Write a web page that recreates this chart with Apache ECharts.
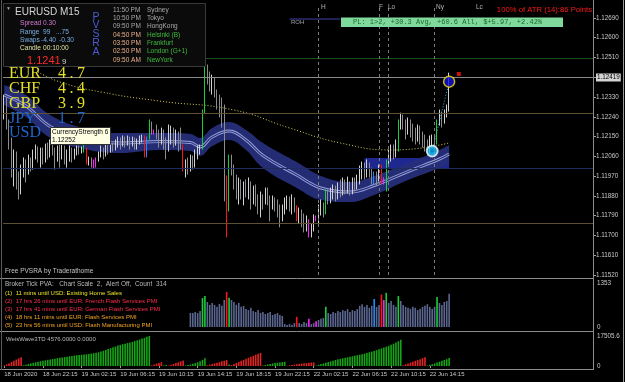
<!DOCTYPE html>
<html>
<head>
<meta charset="utf-8">
<script src="https://cdn.jsdelivr.net/npm/echarts@6.0.0/dist/echarts.min.js"></script>
<style>
  html, body { margin: 0; padding: 0; background: #000; }
  #chart { width: 625px; height: 382px; }
</style>
</head>
<body>
<div id="chart"></div>
<script>
// EURUSD M15, prices
const BASE = 1.11520
const SLOTS = 244

// candles: [open, close, low, high]
const ohlc = [
  [1.12273,1.12319,1.12228,1.12341],[1.12319,1.12205,1.12182,1.12328],[1.12205,1.12137,1.12091,1.12228],[1.12137,1.12000,1.11964,1.12146],
  [1.12000,1.12046,1.11923,1.12091],[1.12046,1.11955,1.11909,1.12082],[1.11955,1.11909,1.11864,1.11991],[1.11909,1.11977,1.11887,1.12023],
  [1.11977,1.12023,1.11964,1.12055],[1.12023,1.11991,1.11941,1.12046],[1.11991,1.12036,1.11977,1.12068],[1.12036,1.12009,1.11991,1.12055],
  [1.12009,1.12068,1.12000,1.12091],[1.12068,1.12091,1.12046,1.12114],[1.12091,1.12055,1.12032,1.12105],[1.12055,1.12082,1.12009,1.12100],
  [1.12082,1.12046,1.12023,1.12100],[1.12046,1.12100,1.12032,1.12118],[1.12100,1.12068,1.12046,1.12123],[1.12068,1.12114,1.12055,1.12137],
  [1.12114,1.12082,1.12064,1.12132],[1.12082,1.12055,1.12000,1.12100],[1.12055,1.12091,1.12036,1.12109],[1.12091,1.12064,1.12009,1.12114],
  [1.12064,1.12096,1.12046,1.12118],[1.12096,1.12046,1.12023,1.12109],[1.12046,1.12068,1.12009,1.12091],[1.12068,1.12091,1.12036,1.12109],
  [1.12091,1.12059,1.12032,1.12100],[1.12059,1.12082,1.12046,1.12096],[1.12082,1.12096,1.12064,1.12109],[1.12096,1.12087,1.12068,1.12109],
  [1.12087,1.12091,1.12073,1.12105],[1.12082,1.12109,1.12077,1.12114],[1.12091,1.12032,1.12023,1.12100],[1.12032,1.12046,1.12018,1.12059],
  [1.12046,1.12032,1.12009,1.12055],[1.12032,1.12014,1.12005,1.12046],[1.12018,1.12046,1.12009,1.12055],[1.12046,1.12068,1.12036,1.12082],
  [1.12068,1.12091,1.12055,1.12109],[1.12091,1.12073,1.12046,1.12100],[1.12073,1.12105,1.12059,1.12123],[1.12105,1.12087,1.12068,1.12114],
  [1.12087,1.12109,1.12077,1.12127],[1.12109,1.12096,1.12082,1.12123],[1.12096,1.12114,1.12087,1.12137],[1.12114,1.12132,1.12100,1.12150],
  [1.12132,1.12114,1.12091,1.12146],[1.12114,1.12137,1.12105,1.12155],[1.12137,1.12123,1.12100,1.12150],[1.12123,1.12141,1.12109,1.12155],
  [1.12141,1.12118,1.12091,1.12150],[1.12118,1.12137,1.12105,1.12150],[1.12137,1.12109,1.12091,1.12146],[1.12109,1.12127,1.12091,1.12141],
  [1.12127,1.12141,1.12114,1.12155],[1.12141,1.12146,1.12123,1.12159],[1.12150,1.12059,1.12055,1.12155],[1.12059,1.12141,1.12055,1.12150],
  [1.12146,1.12214,1.12137,1.12228],[1.12214,1.12191,1.12159,1.12218],[1.12177,1.12168,1.12159,1.12182],[1.12191,1.12159,1.12137,1.12205],
  [1.12159,1.12137,1.12100,1.12182],[1.12137,1.12173,1.12114,1.12191],[1.12173,1.12114,1.12091,1.12182],[1.12114,1.12091,1.12046,1.12146],
  [1.12091,1.12137,1.12082,1.12205],[1.12137,1.12159,1.12114,1.12200],[1.12159,1.12127,1.12100,1.12191],[1.12127,1.12155,1.12109,1.12182],
  [1.12155,1.12137,1.12082,1.12173],[1.12137,1.12114,1.12091,1.12191],[1.12105,1.12000,1.11991,1.12114],[1.12000,1.12023,1.11964,1.12046],
  [1.12023,1.12009,1.11977,1.12055],[1.12009,1.12046,1.11991,1.12068],[1.12046,1.12023,1.12000,1.12064],[1.12023,1.12055,1.12009,1.12091],
  [1.12055,1.12082,1.12046,1.12109],[1.12082,1.12105,1.12068,1.12114],[1.12105,1.12264,1.12091,1.12273],[1.12264,1.12464,1.12255,1.12491],
  [1.12464,1.12419,1.12387,1.12478],[1.12419,1.12387,1.12355,1.12446],[1.12387,1.12410,1.12341,1.12432],[1.12410,1.12355,1.12328,1.12419],
  [1.12355,1.12319,1.12273,1.12364],[1.12319,1.12273,1.12237,1.12341],[1.12273,1.12218,1.12191,1.12328],[1.12205,1.11964,1.11855,1.12296],
  [1.11964,1.11827,1.11691,1.11973],[1.11827,1.12055,1.11809,1.12068],[1.12055,1.12000,1.11973,1.12068],[1.12000,1.11955,1.11909,1.12023],
  [1.11955,1.11909,1.11864,1.11977],[1.11909,1.11932,1.11841,1.11964],[1.11932,1.11887,1.11864,1.11955],[1.11887,1.11918,1.11837,1.11946],
  [1.11918,1.11896,1.11873,1.11955],[1.11896,1.11932,1.11864,1.11964],[1.11932,1.11882,1.11818,1.11946],[1.11882,1.11909,1.11841,1.11927],
  [1.11909,1.11864,1.11832,1.11932],[1.11864,1.11841,1.11796,1.11887],[1.11841,1.11873,1.11782,1.11900],[1.11873,1.11850,1.11818,1.11887],
  [1.11850,1.11887,1.11841,1.11918],[1.11887,1.11864,1.11837,1.11918],[1.11864,1.11837,1.11764,1.11882],[1.11837,1.11859,1.11818,1.11882],
  [1.11859,1.11841,1.11809,1.11873],[1.11841,1.11809,1.11782,1.11864],[1.11809,1.11782,1.11737,1.11841],[1.11782,1.11818,1.11764,1.11841],
  [1.11818,1.11841,1.11796,1.11873],[1.11841,1.11855,1.11818,1.11882],[1.11855,1.11832,1.11809,1.11877],[1.11832,1.11864,1.11796,1.11887],
  [1.11864,1.11827,1.11805,1.11873],[1.11827,1.11773,1.11764,1.11837],[1.11773,1.11800,1.11755,1.11827],[1.11800,1.11773,1.11737,1.11818],
  [1.11773,1.11750,1.11714,1.11800],[1.11750,1.11764,1.11718,1.11791],[1.11764,1.11718,1.11691,1.11773],[1.11718,1.11737,1.11691,1.11755],
  [1.11737,1.11773,1.11718,1.11796],[1.11782,1.11773,1.11764,1.11791],[1.11773,1.11809,1.11750,1.11841],[1.11809,1.11827,1.11791,1.11864],
  [1.11827,1.11809,1.11782,1.11850],[1.11805,1.11896,1.11796,1.11909],[1.11896,1.11864,1.11841,1.11909],[1.11864,1.11882,1.11846,1.11918],
  [1.11882,1.11909,1.11864,1.11932],[1.11909,1.11882,1.11855,1.11927],[1.11882,1.11918,1.11864,1.11941],[1.11918,1.11900,1.11873,1.11955],
  [1.11900,1.11932,1.11882,1.11964],[1.11932,1.11909,1.11887,1.11955],[1.11909,1.11927,1.11891,1.11968],[1.11927,1.11909,1.11882,1.11946],
  [1.11909,1.11936,1.11887,1.11964],[1.11936,1.11923,1.11900,1.11964],[1.11923,1.11955,1.11909,1.11977],[1.11955,1.11973,1.11932,1.12018],
  [1.11973,1.12000,1.11955,1.12036],[1.12000,1.11977,1.11955,1.12032],[1.11977,1.12009,1.11964,1.12046],[1.12009,1.11991,1.11964,1.12032],
  [1.11991,1.11968,1.11932,1.12009],[1.11941,1.11977,1.11932,1.11991],[1.11977,1.11955,1.11927,1.11991],[1.11964,1.12009,1.11946,1.12023],
  [1.12009,1.11946,1.11936,1.12023],[1.11955,1.11941,1.11932,1.11964],[1.11941,1.12032,1.11900,1.12046],[1.12032,1.12055,1.12018,1.12091],
  [1.12055,1.12091,1.12036,1.12114],[1.12091,1.12068,1.12046,1.12114],[1.12068,1.12091,1.12055,1.12137],[1.12091,1.12214,1.12082,1.12228],
  [1.12214,1.12237,1.12182,1.12259],[1.12237,1.12205,1.12182,1.12250],[1.12205,1.12182,1.12137,1.12228],[1.12182,1.12218,1.12159,1.12237],
  [1.12218,1.12191,1.12146,1.12228],[1.12191,1.12159,1.12127,1.12209],[1.12159,1.12137,1.12114,1.12191],[1.12137,1.12173,1.12127,1.12205],
  [1.12173,1.12146,1.12114,1.12200],[1.12146,1.12127,1.12100,1.12173],[1.12127,1.12100,1.12082,1.12159],[1.12100,1.12091,1.12064,1.12137],
  [1.12091,1.12114,1.12073,1.12155],[1.12114,1.12137,1.12100,1.12159],[1.12137,1.12127,1.12109,1.12155],[1.12127,1.12214,1.12114,1.12228],
  [1.12214,1.12237,1.12200,1.12273],[1.12237,1.12218,1.12191,1.12264],[1.12218,1.12250,1.12209,1.12273],[1.12250,1.12273,1.12237,1.12296],
  [1.12273,1.12419,1.12264,1.12441]
]

// PVSRA coloured bars
const greenBars = [33, 60, 82, 83, 93, 133, 158, 163, 179]
const redBars = [34, 58, 74, 92, 121, 156]
const blueBars = [59, 153]
const magentaBars = [37, 38, 62, 126, 129, 157]

// broker tick volume, from bar 77 on
const volStart = 77
const volumes = [
  430,430,460,430,490,890,950,770,680,740,680,620,710,650,830,1080,900,830,770,680,
  740,620,650,550,520,590,490,460,520,430,460,400,430,460,370,400,430,370,340,90,
  60,90,60,120,310,120,90,150,120,250,90,120,180,215,250,280,620,430,400,460,
  430,490,460,520,490,550,460,520,490,550,650,700,620,680,590,650,860,620,680,1000,
  830,1050,740,800,680,620,950,800,680,620,590,560,620,590,520,560,620,650,700,620,
  560,620,920,740,680,770,800,1020
]

// weis waves, one entry per wave
const weisWaves = [
  ['d', [300,900,1500,2300,3000,3800,4500,5100]],
  ['u', [400,800,1200,1500,1800,2200,2550,2800,3100,3300,3600,3800,4100,4300,4590,4800,5000,5200,5450,5700,5900,6100,6290,6400,6550,6700,6900,7050,7250,7500,7750,7990,8400,8900,9400,9900,10400,10900,11400,11900,12300,12700,13000,13400,13750,14100,14500,15000,15500,16000,16500,17000,17505]],
  ['d', [400,900,1400,1800,2200]],
  ['u', [300,600]],
  ['d', [300,700,1200,1700,2200,2700,3200]],
  ['u', [300,600,900,1300,1700,2200,2800,3600,4500]],
  ['d', [400,800,1100,1500,1900,2300,2700,3100,3500]],
  ['u', [900]],
  ['d', [600,1200,1800,2400,3000,3600,4200,4800,5400,6000,6600,7100,7650]],
  ['u', [300,600,900,1200,1500,1700,1900,2100,2300,2500]],
  ['d', [200,400,600,800,1000,1200,1400,1550,1700,1850,2000,2100]],
  ['u', [300,700,1100,1500,1900,2300,2700,3100,3500,3900,4200,4500,4800,5100,5400,5700,6000,6300,6600,6900,7200,7600,8000,8400,8800,9300,9800,10300,10800,11300,11800,12400,13000,13700,14500,15300]],
  ['d', [500,1000,1500,2000,2500,3000,3500,4000,4600,5100]],
  ['u', [300,700,1100,1500,2000,2500,3000,3500,4000,4600]]
]

// ema band
const bandIdx = [0, 9, 19, 31, 48, 64, 77, 81, 86, 93, 100, 107, 121, 131, 143, 153, 167, 180, 184]
const bandUpper = [1.12385,1.12339,1.12248,1.12194,1.12166,1.12166,1.12162,1.12144,1.12189,1.12216,1.12180,1.12121,1.12034,1.11971,1.11943,1.11971,1.12030,1.12089,1.12112]
const bandLower = [1.12294,1.12239,1.12144,1.12098,1.12075,1.12089,1.12084,1.12062,1.12107,1.12135,1.12089,1.12007,1.11916,1.11861,1.11852,1.11884,1.11952,1.12007,1.12030]

// slow yellow dotted average
const maIdx = [14, 23, 40, 64, 95, 118, 139, 161, 184]
const maVals = [1.12444,1.12399,1.12353,1.12312,1.12271,1.12189,1.12121,1.12089,1.12121]

// levels
const bidPrice = 1.12419
const levels = [[1.12508, '#174f17'], [1.12257, '#5f5033'], [1.12007, '#1f2d5c'], [1.11757, '#5f5033']]
const sessionLines = [130, 155, 159, 178]
const zone = [149, 184, 1.12053, 1.12007]
const rohLine = [118, 139, 1.12685]

const tickLabels = ['18 Jun 2020','18 Jun 22:15','19 Jun 02:15','19 Jun 06:15','19 Jun 10:15','19 Jun 14:15',
  '19 Jun 18:15','19 Jun 22:15','22 Jun 02:15','22 Jun 06:15','22 Jun 10:15','22 Jun 14:15']
const priceTicks = { min: 0, max: 1229, step: 90 }

const sessions = [['11:50 PM','Sydney'],['10:50 PM','Tokyo'],['09:50 PM','HongKong'],['04:50 PM','Helsinki (B)'],
  ['03:50 PM','Frankfurt'],['02:50 PM','London (G+1)'],['09:50 AM','NewYork']]
const strengthNames = ['EUR','CHF','GBP','JPY','USD']
const strengthValues = ['4.7','4.4','3.9','1.7','']
const newsLines = [
  ['(1)  11 mins until USD: Existing Home Sales', '#e8e22a'],
  ['(2)  17 hrs 26 mins until EUR: French Flash Services PMI', '#ff2f4f'],
  ['(3)  17 hrs 41 mins until EUR: German Flash Services PMI', '#ff2f4f'],
  ['(4)  18 hrs 11 mins until EUR: Flash Services PMI', '#f2a324'],
  ['(5)  23 hrs 56 mins until USD: Flash Manufacturing PMI', '#f2a324']
]

const FONT = 'Liberation Sans'
const pt = (p) => +((p - BASE) * 1e5).toFixed(2)
const cats = Array.from({ length: SLOTS }, (_, i) => String(i))

const specialColor = (i) => {
  if (greenBars.includes(i)) return '#18d03a'
  if (redBars.includes(i)) return '#ff1414'
  if (blueBars.includes(i)) return '#1e8cff'
  if (magentaBars.includes(i)) return '#ff22ff'
  return null
}

const candleData = ohlc.map((r, i) => {
  const v = r.map(pt)
  const c = specialColor(i)
  if (!c) return v
  return { value: v, itemStyle: { color: c, color0: c, borderColor: c, borderColor0: c } }
})

const volData = ohlc.map((r, i) => {
  if (i < volStart) return '-'
  return { value: volumes[i - volStart], itemStyle: { color: specialColor(i) || '#5b6790' } }
})

const weisData = []
weisWaves.forEach(([dir, vals]) => {
  vals.forEach((v) => weisData.push({ value: v, itemStyle: { color: dir === 'u' ? '#16a516' : '#e32424' } }))
})

const labelIdx = (i) => i % 16 === 0 && i / 16 < tickLabels.length

const text = (x, y, str, fill, size, extra = {}) => ({
  type: 'text', x, y, z: 60,
  style: { text: str, fill, font: `${size}px ${extra.family || FONT}`, verticalAlign: 'middle', align: extra.align || 'left' }
})
const hline = (y, x1, x2, color) => ({ type: 'line', z: 55, shape: { x1, y1: y, x2, y2: y }, style: { stroke: color, lineWidth: 1 } })
const vline = (x, y1, y2, color) => ({ type: 'line', z: 55, shape: { x1: x, y1, x2: x, y2 }, style: { stroke: color, lineWidth: 1 } })

const graphics = [
  // info panel
  { type: 'rect', z: 50, shape: { x: 3.5, y: 3.5, width: 202, height: 63 }, style: { fill: '#0b0b0b', stroke: '#3a3a3a', lineWidth: 1 } },
  text(6, 9, '▼', '#a0a0a0', 5),
  text(15, 12, 'EURUSD', '#d6d6d6', 10),
  text(60, 12, 'M15', '#d6d6d6', 10),
  text(20, 23, 'Spread 0.30', '#d57ad6', 6.6),
  text(20, 32, 'Range', '#78aee2', 6.6), text(43, 32, '99', '#78aee2', 6.6), text(56, 32, '...75', '#78aee2', 6.6),
  text(20, 40, 'Swaps', '#78aee2', 6.6), text(41, 40, '-4.40', '#78aee2', 6.6), text(59, 40, '-0.30', '#78aee2', 6.6),
  text(20, 48, 'Candle', '#e2e2a2', 6.6), text(43, 48, '00:10:00', '#e2e2a2', 6.6),
  text(27, 61, '1.1241', '#ff2a2a', 11),
  text(62, 62, '9', '#d0d0d0', 8)
]
'PVSRA'.split('').forEach((ch, k) => graphics.push(text(96, [17, 25.5, 34, 43, 52][k], ch, '#4b5ad6', 10.5, { align: 'center' })))
sessions.forEach(([t, city], k) => {
  const y = 10 + k * 8.3
  graphics.push(text(113, y, t, k < 3 ? '#a8a8a8' : '#e7b089', 6.5))
  graphics.push(text(147, y, city, k < 3 ? '#a8a8a8' : '#3dbb3d', 6.5))
})
strengthNames.forEach((n, k) => {
  const y = 74 + k * 14.8
  const c = k < 3 ? '#e4e028' : '#1f66cc'
  graphics.push(text(9, y, n, c, 16, { family: 'Liberation Serif' }))
  if (strengthValues[k]) {
    strengthValues[k].split('').forEach((ch, j) => graphics.push(text(62 + j * 9.5, y, ch, c, 16, { family: 'Liberation Serif', align: 'center' })))
  }
})
graphics.push(
  { type: 'rect', z: 58, shape: { x: 50.5, y: 127.5, width: 60, height: 17 }, style: { fill: '#ffffe4', stroke: '#303030', lineWidth: 1 } },
  text(52, 132, 'CurrencyStrength 6', '#000', 6.5),
  text(52, 140, '1.12252', '#000', 6.5),
  // top labels
  text(321, 7, 'H', '#b4b4b4', 6.5), text(379, 7, 'F', '#b4b4b4', 6.5), text(388, 7, 'Lo', '#b4b4b4', 6.5),
  text(436, 7, 'Ny', '#b4b4b4', 6.5), text(476, 7, 'Lc', '#b4b4b4', 6.5),
  text(592, 10, '100% of ATR (14):86 Points', '#ff1a1a', 7.7, { align: 'right' }),
  { type: 'rect', z: 58, shape: { x: 341, y: 17.5, width: 222, height: 9.5 }, style: { fill: '#7fd89c' } },
  text(353, 22.5, 'PL: 1>2, +30.3 Avg, +60.6 All, $+5.97, +2.42%', '#1c6a2a', 7, { family: 'Liberation Mono' }),
  text(291, 22.5, 'ROH', '#a0a0a0', 6),
  text(5, 271, 'Free PVSRA by Traderathome', '#c4c4c4', 6.5),
  text(5, 284.5, 'Broker Tick PVA:   Chart Scale  2,  Alert Off,  Count  314', '#b8b8b8', 6.5),
  text(6, 339, 'WeisWave3TD 4576.0000 0.0000', '#b8b8b8', 6),
  hline(278.5, 0, 593, '#8c8c8c'), hline(331.5, 0, 593, '#8c8c8c'), hline(369.5, 0, 593, '#8c8c8c'),
  vline(593.5, 0, 370, '#8c8c8c'), vline(623.5, 0, 382, '#9a9a9a'), vline(1.5, 0, 370, '#5a5a5a')
)
newsLines.forEach(([s, c], k) => graphics.push(text(5, 293 + k * 8, s, c, 6, { family: 'Liberation Sans Narrow, Liberation Sans' })))

const axisLabelStyle = { color: '#c8c8c8', fontSize: 6.3, fontFamily: FONT }
const grids = [
  { left: 3, right: 32, top: 5, height: 270 },
  { left: 3, right: 32, top: 283, height: 44 },
  { left: 3, right: 32, top: 336, height: 30 }
].map((g) => Object.assign(g, { containLabel: false, outerBoundsMode: 'none', show: false }))

const option = {
  backgroundColor: '#000',
  animation: false,
  grid: grids,
  xAxis: [0, 1, 2].map((g) => ({
    type: 'category', gridIndex: g, data: cats, boundaryGap: true,
    axisLine: { show: false },
    axisTick: { show: g === 2, interval: labelIdx, length: 2, alignWithLabel: true, lineStyle: { color: '#9a9a9a' } },
    axisLabel: {
      show: g === 2, interval: labelIdx, align: 'left', margin: 5,
      color: '#c8c8c8', fontSize: 6, fontFamily: FONT,
      formatter: (v, i) => tickLabels[i / 16]
    },
    splitLine: { show: false }
  })),
  yAxis: [
    {
      type: 'value', gridIndex: 0, position: 'right', scale: false,
      min: priceTicks.min, max: priceTicks.max, interval: priceTicks.step,
      axisLine: { show: false },
      axisTick: { show: true, length: 3, lineStyle: { color: '#a0a0a0' } },
      axisLabel: Object.assign({ margin: 3, showMaxLabel: false, formatter: (v) => (BASE + v / 1e5).toFixed(5) }, axisLabelStyle),
      splitLine: { show: false }
    },
    {
      type: 'value', gridIndex: 1, position: 'right', min: 0, max: 1353, interval: 1353,
      axisLine: { show: false }, axisTick: { show: false },
      axisLabel: Object.assign({ margin: 4, formatter: (v) => String(v) }, axisLabelStyle),
      splitLine: { show: false }
    },
    {
      type: 'value', gridIndex: 2, position: 'right', min: 0, max: 17505.6, interval: 17505.6,
      axisLine: { show: false }, axisTick: { show: false },
      axisLabel: Object.assign({ margin: 4, formatter: (v) => (v === 0 ? '0' : v.toFixed(1)) }, axisLabelStyle),
      splitLine: { show: false }
    }
  ],
  graphic: graphics,
  series: [
    {
      type: 'line', name: 'bandBase', stack: 'band', z: 1, silent: true, symbol: 'none', smooth: 0.4,
      lineStyle: { width: 0 },
      data: bandIdx.map((x, k) => [x, pt(bandLower[k])])
    },
    {
      type: 'line', name: 'band', stack: 'band', z: 1, silent: true, symbol: 'none', smooth: 0.4,
      lineStyle: { width: 0 }, areaStyle: { color: '#262e7a', opacity: 0.95 },
      data: bandIdx.map((x, k) => [x, pt(bandUpper[k]) - pt(bandLower[k])])
    },
    {
      type: 'line', z: 1, silent: true, symbol: 'none', smooth: 0.4,
      lineStyle: { width: 3, color: '#9aa2d8' },
      data: bandIdx.map((x, k) => [x, (pt(bandUpper[k]) + pt(bandLower[k])) / 2])
    },
    {
      type: 'line', z: 1, silent: true, symbol: 'none', smooth: 0.4,
      lineStyle: { width: 1.2, color: '#2a3380' },
      data: bandIdx.map((x, k) => [x, (pt(bandUpper[k]) + pt(bandLower[k])) / 2])
    },
    {
      type: 'candlestick', name: 'EURUSD', z: 3, barWidth: 1,
      itemStyle: { color: '#d2d2d2', color0: '#8c8c8c', borderColor: '#d2d2d2', borderColor0: '#8c8c8c', borderWidth: 1 },
      data: candleData,
      markArea: {
        silent: true,
        itemStyle: { color: '#1f2891' },
        data: [[{ xAxis: zone[0], yAxis: pt(zone[2]) }, { xAxis: zone[1], yAxis: pt(zone[3]) }]]
      },
      markLine: {
        silent: true, symbol: ['none', 'none'], animation: false,
        label: { show: false },
        data: [
          {
            yAxis: pt(bidPrice), lineStyle: { color: '#8a8a8a', type: 'solid', width: 1 },
            label: {
              show: true, position: 'end', distance: 3, formatter: bidPrice.toFixed(5),
              backgroundColor: '#d4d4d4', color: '#000', padding: [1, 1], fontSize: 6.3, fontFamily: FONT
            }
          },
          ...levels.map(([p, c]) => ({ yAxis: pt(p), lineStyle: { color: c, type: 'solid', width: 1 } })),
          ...sessionLines.map((i) => ({ xAxis: i, lineStyle: { color: '#7c7c7c', type: [3, 3], width: 1 } }))
        ]
      }
    },
    {
      type: 'line', z: 2, silent: true, symbol: 'none', smooth: 0.5,
      lineStyle: { color: '#d8d15a', width: 1, type: [1, 2] },
      data: maIdx.map((x, k) => [x, pt(maVals[k])])
    },
    {
      type: 'line', z: 4, silent: true, symbol: 'none',
      lineStyle: { color: '#3ac4ff', width: 1, type: [1, 2] },
      data: [[177, pt(1.12084)], [184, pt(1.12400)]]
    },
    {
      type: 'line', z: 4, silent: true, symbol: 'none',
      lineStyle: { color: '#2b2b72', width: 1.5 },
      data: [[rohLine[0], pt(rohLine[2])], [rohLine[1], pt(rohLine[2])]]
    },
    {
      type: 'scatter', z: 5, silent: true, symbolSize: 11,
      itemStyle: { color: '#1414d8', borderColor: '#ffe400', borderWidth: 1.5 },
      data: [[184, pt(1.12400)]]
    },
    {
      type: 'scatter', z: 5, silent: true, symbolSize: 11,
      itemStyle: { color: '#1ec6ff', borderColor: '#ffffff', borderWidth: 1.8 },
      data: [[177, pt(1.12084)]]
    },
    {
      type: 'scatter', z: 6, silent: true, symbolSize: 3,
      itemStyle: { color: '#0f78b4' },
      data: [[177, pt(1.12084)]]
    },
    {
      type: 'scatter', z: 5, silent: true, symbol: 'rect', symbolSize: 4,
      itemStyle: { color: '#ff1414' },
      data: [[188, pt(1.12435)]]
    },
    {
      type: 'bar', xAxisIndex: 1, yAxisIndex: 1, barWidth: 1.6, silent: true,
      data: volData
    },
    {
      type: 'bar', xAxisIndex: 2, yAxisIndex: 2, barWidth: 1.6, silent: true,
      data: weisData
    }
  ]
}

const chart = echarts.init(document.getElementById('chart'), null, { renderer: 'canvas' })
chart.setOption(option)
</script>
</body>
</html>
